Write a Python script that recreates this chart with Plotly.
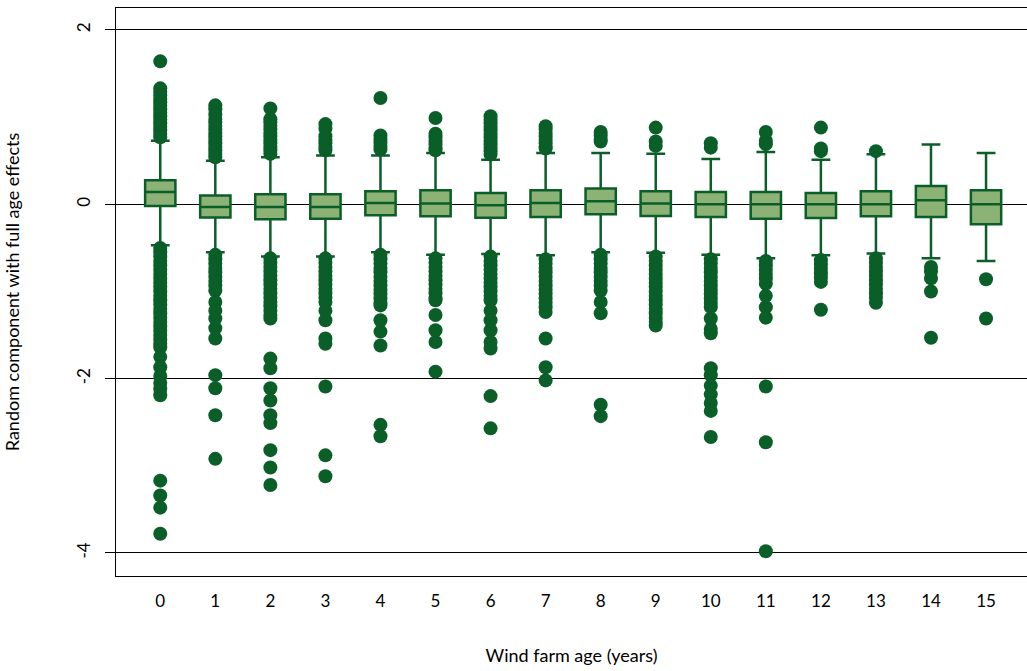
import plotly.graph_objects as go

ages = list(range(16))

# box statistics
q1 = [-0.02, -0.15, -0.17, -0.165, -0.126, -0.137, -0.153, -0.145,
      -0.115, -0.134, -0.145, -0.165, -0.157, -0.137, -0.145, -0.23]
median = [0.14, -0.03, -0.03, -0.03, 0.015, 0.008, -0.01, 0.015,
          0.035, 0.008, 0.0, 0.0, 0.0, 0.0, 0.046, 0.0]
q3 = [0.275, 0.10, 0.115, 0.115, 0.15, 0.16, 0.13, 0.16,
      0.18, 0.15, 0.14, 0.14, 0.13, 0.15, 0.21, 0.16]
upper_whisker = [0.73, 0.50, 0.54, 0.56, 0.56, 0.59, 0.51, 0.59,
                 0.59, 0.58, 0.52, 0.60, 0.51, 0.573, 0.685, 0.59]
lower_whisker = [-0.47, -0.55, -0.60, -0.60, -0.55, -0.58, -0.57, -0.585,
                 -0.55, -0.555, -0.58, -0.62, -0.585, -0.565, -0.62, -0.65]

# outside values, one list per age
outliers_hi = [
    [1.64, 1.33, 1.29, 1.25, 1.21, 1.17, 1.13, 1.09, 1.05, 1.01, 0.97, 0.93, 0.89, 0.85, 0.81, 0.77],
    [1.135, 1.09, 1.03, 0.98, 0.94, 0.90, 0.86, 0.82, 0.78, 0.74, 0.70, 0.66, 0.62, 0.58, 0.54],
    [1.10, 0.975, 0.94, 0.90, 0.86, 0.82, 0.78, 0.74, 0.70, 0.66, 0.62, 0.58],
    [0.92, 0.87, 0.78, 0.74, 0.70, 0.66, 0.62],
    [1.22, 0.79, 0.75, 0.71, 0.67, 0.63],
    [0.99, 0.81, 0.77, 0.73, 0.69, 0.65, 0.62],
    [1.01, 0.97, 0.93, 0.89, 0.85, 0.81, 0.77, 0.73, 0.69, 0.65, 0.61, 0.57],
    [0.895, 0.86, 0.82, 0.78, 0.74, 0.70, 0.66, 0.64],
    [0.83, 0.79, 0.75, 0.72],
    [0.88, 0.72, 0.67],
    [0.70, 0.65],
    [0.83, 0.73, 0.69],
    [0.88, 0.64, 0.61],
    [0.61],
    [],
    [],
]
outliers_lo = [
    [-0.50, -0.55, -0.60, -0.65, -0.70, -0.75, -0.80, -0.85, -0.90, -0.95, -1.00, -1.05,
     -1.10, -1.15, -1.20, -1.25, -1.30, -1.35, -1.40, -1.45, -1.50, -1.55, -1.60, -1.64,
     -1.75, -1.87, -1.97, -2.05, -2.12, -2.19, -3.17, -3.34, -3.48, -3.78],
    [-0.58, -0.63, -0.68, -0.73, -0.78, -0.83, -0.88, -0.93, -0.99, -1.12, -1.22, -1.31,
     -1.42, -1.54, -1.96, -2.11, -2.42, -2.92],
    [-0.62, -0.67, -0.72, -0.77, -0.82, -0.87, -0.92, -0.97, -1.02, -1.07, -1.12, -1.17,
     -1.22, -1.27, -1.31, -1.77, -1.88, -2.11, -2.25, -2.42, -2.51, -2.82, -3.02, -3.22],
    [-0.62, -0.67, -0.72, -0.77, -0.82, -0.87, -0.92, -0.97, -1.02, -1.07, -1.12, -1.22,
     -1.33, -1.54, -1.60, -2.09, -2.88, -3.12],
    [-0.58, -0.63, -0.68, -0.73, -0.78, -0.83, -0.88, -0.93, -0.98, -1.03, -1.08, -1.13,
     -1.16, -1.33, -1.46, -1.62, -2.53, -2.66],
    [-0.62, -0.67, -0.72, -0.77, -0.82, -0.87, -0.92, -0.97, -1.02, -1.07, -1.10, -1.27,
     -1.445, -1.58, -1.92],
    [-0.60, -0.65, -0.70, -0.75, -0.80, -0.85, -0.90, -0.95, -1.00, -1.05, -1.10, -1.22,
     -1.33, -1.445, -1.58, -1.655, -2.20, -2.57],
    [-0.63, -0.68, -0.73, -0.78, -0.83, -0.88, -0.93, -0.98, -1.03, -1.08, -1.13, -1.18,
     -1.235, -1.54, -1.87, -2.02],
    [-0.58, -0.63, -0.68, -0.73, -0.78, -0.83, -0.88, -0.93, -0.99, -1.12, -1.25, -2.30, -2.43],
    [-0.60, -0.65, -0.70, -0.75, -0.80, -0.85, -0.90, -0.95, -1.00, -1.05, -1.10, -1.15,
     -1.20, -1.25, -1.30, -1.35, -1.39],
    [-0.63, -0.68, -0.73, -0.78, -0.83, -0.88, -0.93, -0.98, -1.03, -1.08, -1.13, -1.18,
     -1.31, -1.43, -1.48, -1.88, -1.96, -2.08, -2.18, -2.28, -2.37, -2.67],
    [-0.65, -0.70, -0.75, -0.80, -0.85, -0.91, -1.05, -1.18, -1.30, -2.09, -2.73, -3.98],
    [-0.64, -0.69, -0.74, -0.79, -0.84, -0.89, -1.21],
    [-0.62, -0.67, -0.72, -0.77, -0.82, -0.87, -0.92, -0.97, -1.02, -1.07, -1.13],
    [-0.72, -0.77, -0.85, -1.00, -1.53],
    [-0.86, -1.31],
]

dark_green = "rgb(10,94,40)"
light_green = "rgb(140,178,118)"
font_family = "Lato, 'Open Sans', sans-serif"

fig = go.Figure()

# outside values as dots (drawn first so boxes sit on top)
out_x = []
out_y = []
for age in ages:
    for v in outliers_hi[age] + outliers_lo[age]:
        out_x.append(age)
        out_y.append(v)

fig.add_trace(go.Scatter(
    x=out_x, y=out_y, mode="markers",
    marker=dict(color=dark_green, size=14, line=dict(width=0)),
    showlegend=False, hoverinfo="y",
))

fig.add_trace(go.Box(
    x=ages, q1=q1, median=median, q3=q3,
    lowerfence=lower_whisker, upperfence=upper_whisker,
    fillcolor=light_green,
    line=dict(color=dark_green, width=2.5),
    width=0.55, whiskerwidth=0.62,
    boxpoints=False, showlegend=False,
))

fig.update_layout(
    width=1027, height=671,
    margin=dict(l=116, r=0, t=8, b=95),
    paper_bgcolor="white", plot_bgcolor="white",
    font=dict(family=font_family, size=17, color="black"),
    xaxis=dict(
        range=[-0.804, 15.744],
        tickmode="array", tickvals=ages, ticktext=[str(a) for a in ages],
        ticks="", showgrid=False, zeroline=False,
        showline=True, linecolor="black", linewidth=1, mirror=True,
        ticklabelstandoff=10,
        title=dict(text="Wind farm age (years)", font=dict(size=18), standoff=38),
    ),
    yaxis=dict(
        range=[-4.264, 2.252],
        tickmode="array", tickvals=[-4, -2, 0, 2], ticktext=["-4", "-2", "0", "2"],
        tickangle=-90,
        ticks="outside", ticklen=10, tickcolor="black", tickwidth=1,
        showgrid=True, gridcolor="black", gridwidth=1, zeroline=False,
        showline=True, linecolor="black", linewidth=1, mirror=True,
        ticklabelstandoff=8,
        title=dict(text="Random component with full age effects", font=dict(size=18), standoff=48),
    ),
)

# drop the page's default body margin so the figure sits at the window corner
fig.write_html(
    "out.html",
    config={"displayModeBar": False},
    post_script="document.body.style.margin='0';document.body.style.overflow='hidden';",
)
